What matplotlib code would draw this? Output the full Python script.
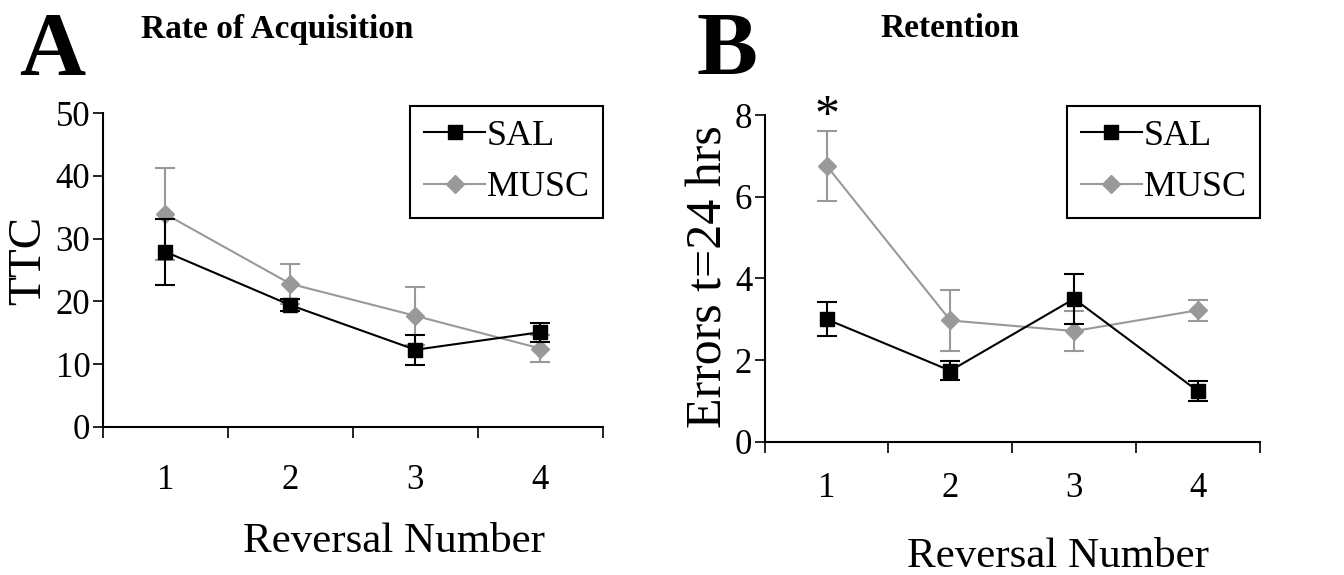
import matplotlib
matplotlib.use("Agg")
import matplotlib.pyplot as plt
from matplotlib.ticker import FixedLocator, NullFormatter

plt.rcParams['font.family'] = ['Liberation Serif', 'DejaVu Serif']

# Datos
reversal = [1, 2, 3, 4]
xtick_lbls = ['1', '2', '3', '4']

# A: Rate of Acquisition (TTC)
sal_ttc = [27.9, 19.4, 12.3, 15.1]
sal_ttc_err = [5.3, 1.0, 2.4, 1.5]
musc_ttc = [33.9, 22.8, 17.7, 12.5]
musc_ttc_err = [7.3, 3.2, 4.6, 2.1]

# B: Retention (errors at t=24 hrs)
sal_err24 = [3.0, 1.74, 3.5, 1.24]
sal_err24_sem = [0.42, 0.23, 0.62, 0.25]
musc_err24 = [6.76, 2.97, 2.71, 3.22]
musc_err24_sem = [0.86, 0.74, 0.48, 0.26]

GREY = '#999999'

fig = plt.figure(figsize=(13.44, 5.75), dpi=100)
axA = fig.add_axes([0.0766, 0.2574, 0.372, 0.546])
axB = fig.add_axes([0.569, 0.2318, 0.3683, 0.568])


def draw_panel(ax, sal, sal_e, musc, musc_e, ymax, ystep, xpad, leg_top):
    # MUSC first so SAL sits on top
    ax.errorbar(reversal, musc, yerr=musc_e, fmt='none', ecolor=GREY,
                elinewidth=1.5, capsize=7, capthick=1.5)
    lm, = ax.plot(reversal, musc, color=GREY, marker='D', markersize=9.5,
                  linewidth=1.5, label='MUSC')
    ax.errorbar(reversal, sal, yerr=sal_e, fmt='none', ecolor='black',
                elinewidth=1.5, capsize=7, capthick=1.5)
    ls, = ax.plot(reversal, sal, color='black', marker='s', markersize=9.5,
                  linewidth=1.5, label='SAL')
    ax.set_xlim(0.5, 4.5)
    ax.set_ylim(0, ymax)
    ax.set_yticks([i * ystep for i in range(int(ymax / ystep) + 1)])
    # excel style: ticks between categories, labels at centres
    ax.xaxis.set_major_locator(FixedLocator([0.5, 1.5, 2.5, 3.5, 4.5]))
    ax.xaxis.set_major_formatter(NullFormatter())
    ax.xaxis.set_minor_locator(FixedLocator(reversal))
    ax.set_xticklabels(xtick_lbls, minor=True)
    ax.tick_params(axis='x', which='major', direction='out', length=8, width=1.2)
    ax.tick_params(axis='x', which='minor', length=0, pad=xpad, labelsize=25)
    ax.tick_params(axis='y', direction='out', length=7, width=1.2, pad=2, labelsize=25)
    for s in ['top', 'right']:
        ax.spines[s].set_visible(False)
    for s in ['left', 'bottom']:
        ax.spines[s].set_linewidth(1.5)
    leg = ax.legend([ls, lm], ['SAL', 'MUSC'], loc='upper right',
                    bbox_to_anchor=(1.0, leg_top), borderaxespad=0, fontsize=26,
                    handlelength=1.7, handletextpad=0.05, fancybox=False,
                    edgecolor='black', framealpha=1, borderpad=0.38, labelspacing=0.5)
    leg.get_frame().set_linewidth(1.5)


draw_panel(axA, sal_ttc, sal_ttc_err, musc_ttc, musc_ttc_err, 50, 10, 27, 1.022)
draw_panel(axB, sal_err24, sal_err24_sem, musc_err24, musc_err24_sem, 8, 2, 22, 1.028)

# significance marker
axB.text(1, 7.95, '*', ha='center', va='center', fontsize=36, clip_on=False)

# axis labels
axA.set_xlabel('Reversal Number', fontsize=31)
axA.xaxis.set_label_coords(394 / 1344, 1 - 552 / 575, transform=fig.transFigure)
axA.xaxis.label.set_va('baseline')
axB.set_xlabel('Reversal Number', fontsize=31)
axB.xaxis.set_label_coords(1058 / 1344, 1 - 567 / 575, transform=fig.transFigure)
axB.xaxis.label.set_va('baseline')

axA.set_ylabel('TTC', fontsize=34)
axA.yaxis.set_label_coords(29 / 1344, 1 - 260 / 575, transform=fig.transFigure)
axA.yaxis.label.set_va('center')
axB.set_ylabel('Errors t=24 hrs', fontsize=36)
axB.yaxis.set_label_coords(709 / 1344, 1 - 277 / 575, transform=fig.transFigure)
axB.yaxis.label.set_va('center')

# titles and panel letters
fig.text(277 / 1344, 1 - 38 / 575, 'Rate of Acquisition', ha='center', va='baseline',
         fontsize=24, fontweight='bold')
fig.text(950 / 1344, 1 - 37 / 575, 'Retention', ha='center', va='baseline',
         fontsize=24, fontweight='bold')
fig.text(52 / 1344, 1 - 75 / 575, 'A', ha='center', va='baseline', fontsize=66, fontweight='bold')
fig.text(727 / 1344, 1 - 75 / 575, 'B', ha='center', va='baseline', fontsize=66, fontweight='bold')

fig.savefig('out.png', dpi=100)
